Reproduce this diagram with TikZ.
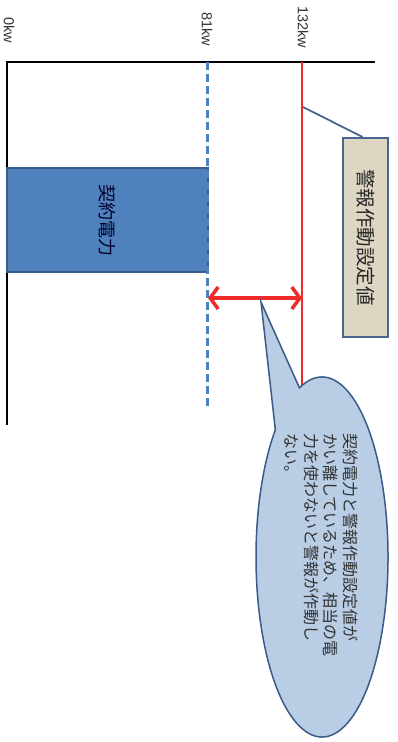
\documentclass[tikz,border=0pt]{standalone}
\usepackage{fontspec}
\setmainfont{Liberation Sans}
\newfontfamily\jp{Noto Sans CJK JP}
\usetikzlibrary{arrows.meta,calc}
\definecolor{barblue}{HTML}{4F81BD}
\definecolor{barline}{HTML}{385D8A}
\definecolor{alarmred}{HTML}{EE2A2A}
\definecolor{tagfill}{HTML}{DCD6C2}
\definecolor{tagline}{HTML}{4A6690}
\definecolor{bubblefill}{HTML}{B9CDE5}
\definecolor{bubbleline}{HTML}{3A5A88}
\begin{document}
\begin{tikzpicture}[x=1pt,y=-1pt,
  axis/.style={line width=1.6pt,black},
  lbl/.style={rotate=-90,font=\fontsize{14.5}{16}\selectfont,text=black!80,inner sep=0pt},
  barbox/.style={rotate=-90,draw=barline,line width=1.2pt,fill=barblue,minimum width=104pt,minimum height=201pt,inner sep=0pt,font=\jp\fontsize{18}{20}\selectfont,text=black!85!blue},
  tagbox/.style={rotate=-90,draw=tagline,line width=2pt,fill=tagfill,minimum width=199pt,minimum height=45pt,inner sep=0pt,font=\jp\fontsize{19.5}{21}\selectfont,text=black!85},
  dashline/.style={barblue,line width=3pt,dash pattern=on 8pt off 4pt},
  redline/.style={alarmred,line width=2pt},
  gap/.style={alarmred,line width=3.5pt,{Straight Barb[length=8pt,width=22pt]}-{Straight Barb[length=8pt,width=22pt]}},
  leader/.style={tagline,line width=1.8pt},
  bubble/.style={draw=bubbleline,line width=1.5pt,fill=bubblefill},
  bubbletext/.style={rotate=-90,anchor=north west,inner sep=0pt,align=left,font=\jp\fontsize{16}{19.5}\selectfont,text=black!80}
]
\useasboundingbox (0,0) rectangle (397,742);
% axes
\coordinate (o) at (7,62);
\coordinate (xend) at (375,62);
\coordinate (yend) at (7,425);
\draw[axis] (xend) -- (o) -- (yend);
% scale labels
\node[lbl] (l0) at (9,30) {0kw};
\node[lbl] (l81) at (207,29) {81kw};
\node[lbl] (l132) at (303,27) {132kw};
% contract power bar
\node[barbox] (bar) at (107.5,220) {契約電力};
% 81kw dashed line
\coordinate (d0) at (207,62);
\coordinate (d1) at (207,408);
\draw[dashline] (d0) -- (d1);
% 132kw red line
\coordinate (r0) at (302,62);
\coordinate (r1) at (302,420);
\draw[redline] (r0) -- (r1);
% gap arrow
\coordinate (a1) at (208,298);
\coordinate (a2) at (302,298);
\draw[gap] (a1) -- (a2);
% alarm threshold tag
\node[tagbox] (tag) at (365.5,237.5) {警報作動設定値};
\coordinate (rl) at (303,107);
\draw[leader] (rl) -- ($(tag.west)+(-3,0)$);
% speech bubble
\coordinate (c) at (322,557);
\coordinate (tip) at (261,302);
\draw[bubble] (tip) -- ($(c)+(250:66 and 180)$) arc[start angle=250,end angle=585,x radius=66,y radius=180] -- cycle;
\node[bubbletext] (bt) at (358,433) {契約電力と警報作動設定値が\\かい離しているため、相当の電\\力を使わないと警報が作動し\\ない。};
\end{tikzpicture}
\end{document}
